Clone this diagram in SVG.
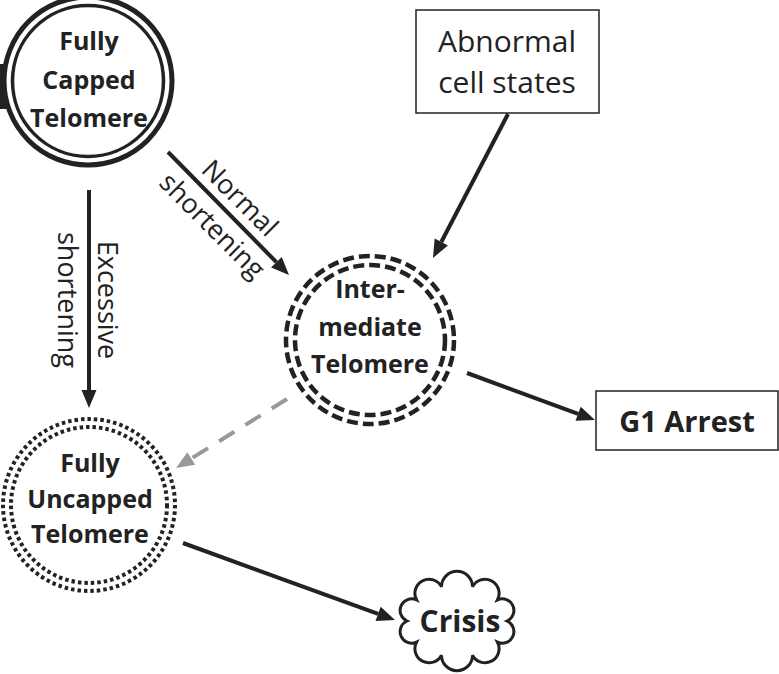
<svg xmlns="http://www.w3.org/2000/svg" width="779" height="674" viewBox="0 0 779 674">
<style>
.t{font-family:"Open Sans","Liberation Sans",sans-serif;fill:#222;text-anchor:middle}
.b{font-weight:bold;font-size:25px}
.r{font-size:27px}
.ln{fill:none;stroke:#222;stroke-width:4}
.ring{fill:none;stroke:#222}
</style>
<defs>
<marker id="ah" markerUnits="userSpaceOnUse" markerWidth="20" markerHeight="16" refX="0" refY="7.5" orient="auto" overflow="visible">
<path d="M0,0 L18,7.5 L0,15 z" fill="#222"/>
</marker>
<marker id="ahg" markerUnits="userSpaceOnUse" markerWidth="20" markerHeight="16" refX="0" refY="7.5" orient="auto" overflow="visible">
<path d="M0,0 L18,7.5 L0,15 z" fill="#999"/>
</marker>
</defs>
<rect width="779" height="674" fill="#fff"/>

<g id="connectors">
<path class="ln" d="M89,190 L89,390" marker-end="url(#ah)"/>
<path class="ln" d="M168,152 L276.4,262.2" marker-end="url(#ah)"/>
<path class="ln" d="M508,114 L441.3,242" marker-end="url(#ah)"/>
<path class="ln" d="M467,373 L578.1,413.8" marker-end="url(#ah)"/>
<path d="M287,399 L191.3,458.5" fill="none" stroke="#999" stroke-width="4" stroke-dasharray="18 13" marker-end="url(#ahg)"/>
<path class="ln" d="M183,543 L378.1,613.9" marker-end="url(#ah)"/>
<g transform="translate(227,211) rotate(45)">
<text class="t r" x="0" y="-9">Normal</text>
<text class="t r" x="0" y="30">shortening</text>
</g>
<g transform="translate(89,300) rotate(90)">
<text class="t r" x="0" y="-9">Excessive</text>
<text class="t r" x="0" y="31">shortening</text>
</g>
</g>

<g id="fully-capped">
<rect x="0" y="64" width="6" height="45" fill="#222"/>
<circle class="ring" cx="88" cy="81" r="84" stroke-width="5"/>
<circle class="ring" cx="88" cy="81" r="75.5" stroke-width="3.5"/>
<text class="t b" x="89" y="50">Fully</text>
<text class="t b" x="89" y="89">Capped</text>
<text class="t b" x="89" y="127">Telomere</text>
</g>

<g id="abnormal">
<rect x="416" y="10" width="183" height="103" fill="#fff" stroke="#222" stroke-width="1.5"/>
<text class="t" style="font-size:30px" x="507" y="52">Abnormal</text>
<text class="t" style="font-size:30px" x="507" y="93">cell states</text>
</g>

<g id="intermediate">
<circle class="ring" cx="370" cy="340" r="84" stroke-width="4.5" stroke-dasharray="11 5"/>
<circle class="ring" cx="370" cy="340" r="75" stroke-width="4.5" stroke-dasharray="11 5"/>
<text class="t b" x="370" y="298">Inter-</text>
<text class="t b" x="370" y="336">mediate</text>
<text class="t b" x="370" y="373">Telomere</text>
</g>

<g id="g1-arrest">
<rect x="596" y="391" width="182" height="59" fill="#fff" stroke="#222" stroke-width="1.5"/>
<text class="t" style="font-size:29px;font-weight:bold" x="687" y="432">G1 Arrest</text>
</g>

<g id="fully-uncapped">
<circle class="ring" cx="89" cy="505" r="86" stroke-width="4" stroke-dasharray="3.5 3"/>
<circle class="ring" cx="89" cy="505" r="78" stroke-width="4" stroke-dasharray="3.5 3"/>
<text class="t b" x="90" y="472">Fully</text>
<text class="t b" x="90" y="508">Uncapped</text>
<text class="t b" x="90" y="543">Telomere</text>
</g>

<g id="crisis">
<path d="M507,621 A1,1 0 0 1 497.5,642.2 A1,1 0 0 1 472.5,655.2 A1,1 0 0 1 441.5,655.2 A1,1 0 0 1 416.5,642.2 A1,1 0 0 1 407,621 A1,1 0 0 1 416.5,599.8 A1,1 0 0 1 441.5,586.8 A1,1 0 0 1 472.5,586.8 A1,1 0 0 1 497.5,599.8 A1,1 0 0 1 507,621 z" fill="#fff" stroke="#222" stroke-width="3"/>
<text class="t" style="font-size:30px;font-weight:bold" x="460" y="632">Crisis</text>
</g>
</svg>
